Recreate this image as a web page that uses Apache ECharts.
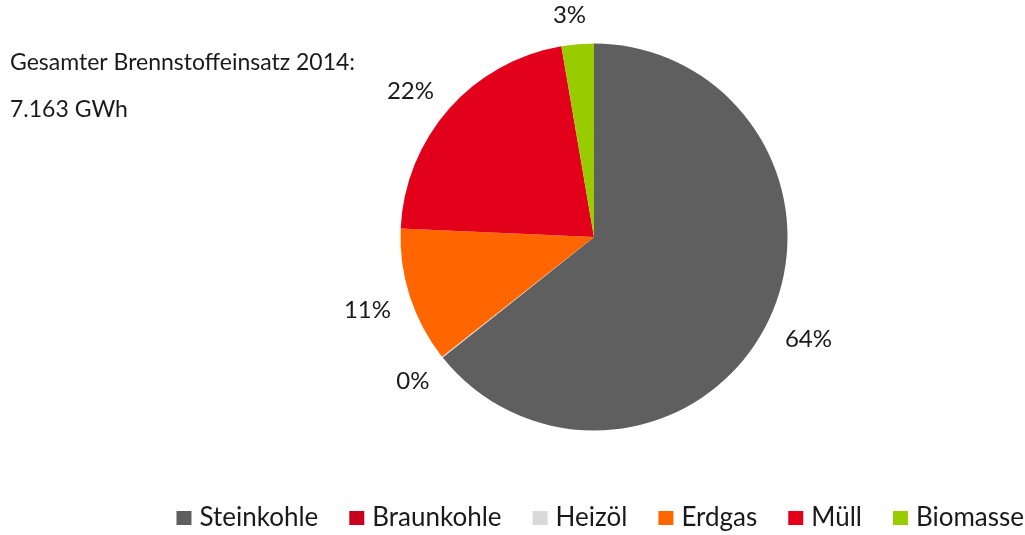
<!DOCTYPE html>
<html>
<head>
<meta charset="utf-8">
<script src="https://cdn.jsdelivr.net/npm/echarts@6/dist/echarts.min.js"></script>
<style>html,body{margin:0;padding:0;background:#fff}#c{width:1025px;height:535px}</style>
</head>
<body>
<div id="c"></div>
<script>
const categories = ['Steinkohle', 'Braunkohle', 'Heizöl', 'Erdgas', 'Müll', 'Biomasse'];
const valuesGWh = [4605, 0, 7, 810, 1548, 193];
const colors = ['#5f5f5f', '#c8001e', '#d9d9d9', '#ff6600', '#e2001a', '#99cc00'];
const noteLines = ['Gesamter Brennstoffeinsatz 2014:', '7.163 GWh'];

const FONT = 'Lato, "Noto Sans", sans-serif';
const LABEL_GAP = 21;
const chart = echarts.init(document.getElementById('c'), null, {renderer: 'canvas'});
const data = categories.map((name, i) => {
  const item = {name: name, value: valuesGWh[i], itemStyle: {color: colors[i]}};
  if (valuesGWh[i] === 0) item.label = {show: false};
  return item;
});

function placeLabel(params) {
  const s = chart.getModel().getSeriesByIndex(params.seriesIndex);
  const lay = s.getData().getItemLayout(params.dataIndex);
  if (!lay) return {};
  const mid = (lay.startAngle + lay.endAngle) / 2;
  const dx = Math.cos(mid), dy = Math.sin(mid);
  const w = params.labelRect.width, h = params.labelRect.height;
  return {
    x: lay.cx + dx * (lay.r + LABEL_GAP) + dx * w / 2 + (dx < 0 && dy < 0 ? -5 : 0),
    y: lay.cy + dy * (lay.r + LABEL_GAP) + dy * h / 2 + 4,
    align: 'center',
    verticalAlign: 'middle'
  };
}

chart.setOption({
  animation: false,
  title: {
    text: noteLines.join('\n'),
    left: 5, top: 34,
    textStyle: {fontFamily: FONT, fontSize: 23, fontWeight: 'normal', color: '#1a1a1a', lineHeight: 47}
  },
  legend: {
    data: categories,
    right: -4, bottom: -1,
    itemWidth: 15, itemHeight: 14, itemGap: 31,
    icon: 'rect',
    textStyle: {fontFamily: FONT, fontSize: 26, color: '#1a1a1a', padding: [0, 0, 0, 3]}
  },
  series: [{
    type: 'pie',
    center: [594, 237],
    radius: 193.5,
    startAngle: 90,
    clockwise: true,
    avoidLabelOverlap: false,
    minShowLabelAngle: 0,
    data: data,
    itemStyle: {borderWidth: 0},
    label: {
      show: true,
      position: 'outside',
      fontFamily: FONT,
      fontSize: 24,
      color: '#1a1a1a',
      formatter: p => Math.round(p.percent) + '%'
    },
    labelLine: {show: false, length: 20, length2: 0},
    labelLayout: placeLabel,
    emphasis: {disabled: true}
  }]
});
</script>
</body>
</html>
